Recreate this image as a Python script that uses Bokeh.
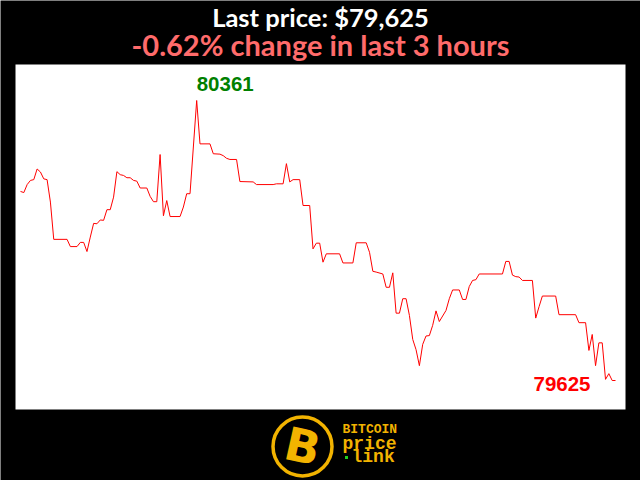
from bokeh.plotting import figure
from bokeh.models import Range1d
from bokeh.core.properties import value
from bokeh.embed import file_html
from bokeh.resources import INLINE

# ---- data (minute index within the last 3 hours, BTC price) ----
minutes = [0, 1, 2, 3, 4, 5, 6, 7, 8, 9, 10, 14, 15, 17, 18, 19, 20, 21, 22, 23,
           24, 25, 26, 27, 28, 29, 30, 31, 32, 33, 34, 35, 36, 38, 39, 40, 41, 42, 43, 44,
           45, 48, 49, 50, 51, 53, 54, 57, 58, 60, 61, 62, 63, 65, 66, 70, 71, 76, 77, 79,
           80, 81, 82, 84, 85, 87, 88, 89, 90, 91, 92, 96, 97, 100, 101, 104, 105, 106, 107, 109,
           110, 111, 112, 113, 114, 115, 116, 117, 118, 119, 120, 121, 122, 123, 124, 125, 126, 128, 129, 130,
           132, 133, 134, 135, 136, 137, 138, 145, 146, 147, 148, 149, 150, 151, 154, 155, 156, 157, 161, 162,
           167, 168, 170, 171, 172, 173, 174, 175, 176, 177, 178, 179]
prices = [80122, 80119, 80140, 80151, 80153, 80181, 80173, 80155, 80153, 80094,
          79996, 79996, 79977, 79977, 79988, 79988, 79964, 80002, 80038, 80037,
          80047, 80046, 80074, 80074, 80107, 80174, 80166, 80164, 80158, 80158,
          80151, 80149, 80131, 80131, 80109, 80095, 80095, 80219, 80058, 80098,
          80056, 80056, 80081, 80116, 80116, 80361, 80247, 80247, 80221, 80220,
          80216, 80209, 80206, 80206, 80148, 80147, 80140, 80140, 80142, 80142,
          80195, 80147, 80153, 80153, 80085, 80085, 79971, 79986, 79986, 79936,
          79958, 79958, 79934, 79934, 79987, 79987, 79962, 79912, 79910, 79905,
          79870, 79870, 79908, 79802, 79802, 79840, 79840, 79796, 79733, 79706,
          79664, 79720, 79742, 79743, 79770, 79808, 79780, 79809, 79840, 79863,
          79863, 79838, 79838, 79872, 79888, 79890, 79905, 79905, 79938, 79938,
          79902, 79898, 79897, 79888, 79888, 79789, 79819, 79847, 79847, 79798,
          79798, 79777, 79777, 79704, 79746, 79664, 79724, 79724, 79628, 79643,
          79625, 79625]
last_price = 79625
change_pct = -0.62
hours = 3
title_line1 = "Last price: ${:,}".format(last_price)
title_line2 = "{:.2f}% change in last {} hours".format(change_pct, hours)
logo_words = ["BITCOIN", "price", "link"]

# ---- layout (figure pixels) ----
W, H = 640, 480
X0_PX, X1_PX = 20, 615      # where first / last minute fall
YMAX_PX, YMIN_PX = 100, 380  # where max / min price fall (from top)

x_scale = (X1_PX - X0_PX) / (minutes[-1] - minutes[0])
x_start = minutes[0] - X0_PX / x_scale
x_end = x_start + W / x_scale
pmax, pmin = max(prices), min(prices)
y_scale = (YMIN_PX - YMAX_PX) / (pmax - pmin)
y_top = pmax + YMAX_PX / y_scale
y_bot = y_top - H / y_scale

p = figure(width=W, height=H, x_range=Range1d(x_start, x_end), y_range=Range1d(y_bot, y_top),
           x_axis_type=None, y_axis_type=None, min_border=0, toolbar_location=None,
           output_backend="svg", background_fill_color="black", border_fill_color="black",
           outline_line_color=None)
p.grid.visible = False
p.extra_x_ranges = {"px": Range1d(0, W)}
p.extra_y_ranges = {"px": Range1d(H, 0)}

# white chart panel
p.quad(left=[15], right=[625], top=[64], bottom=[409], x_range_name="px", y_range_name="px",
       fill_color="white", line_color=None)

# price line
p.line(minutes, prices, line_color="#ff0000", line_width=1)

imax = prices.index(pmax)
p.text(x=[minutes[imax]], y=[pmax], text=[str(pmax)], text_color="#008000",
       text_font=value("Liberation Sans"), text_font_style="bold", text_font_size="20.5px",
       text_align="left", text_baseline="alphabetic", y_offset=-17)
p.text(x=[minutes[-1]], y=[prices[-1]], text=[str(prices[-1])], text_color="#ff0000",
       text_font=value("Liberation Sans"), text_font_style="bold", text_font_size="20.5px",
       text_align="right", text_baseline="alphabetic", x_offset=-25, y_offset=3)

# titles
p.text(x=[320], y=[16.5], text=[title_line1], text_color="white", text_font=value("Lato"),
       text_font_style="bold", text_font_size="25.5px", text_align="center",
       text_baseline="alphabetic", x_range_name="px", y_range_name="px")
p.text(x=[320], y=[43.5], text=[title_line2], text_color="#ff6b6b", text_font=value("Lato"),
       text_font_style="bold", text_font_size="29px", text_align="center",
       text_baseline="alphabetic", x_range_name="px", y_range_name="px")

# logo
gold = "#f2b300"
p.scatter(x=[302], y=[446], size=59, marker="circle", fill_color="black", line_color=gold,
          line_width=3.5, x_range_name="px", y_range_name="px")
p.text(x=[302], y=[446], text=["B"], text_color=gold, text_font=value("DejaVu Sans"),
       text_font_style="bold", text_font_size="46px", text_align="center",
       text_baseline="middle", angle=-0.22, x_range_name="px", y_range_name="px")
p.text(x=[342], y=[429], text=[logo_words[0]], text_color=gold,
       text_font=value("Liberation Mono"), text_font_style="bold", text_font_size="13px",
       text_align="left", text_baseline="middle", x_range_name="px", y_range_name="px")
p.text(x=[342], y=[443], text=[logo_words[1]], text_color=gold,
       text_font=value("Liberation Mono"), text_font_style="bold", text_font_size="18px",
       text_align="left", text_baseline="middle", x_range_name="px", y_range_name="px")
p.text(x=[351], y=[456], text=[logo_words[2]], text_color=gold,
       text_font=value("Liberation Mono"), text_font_style="bold", text_font_size="18px",
       text_align="left", text_baseline="middle", x_range_name="px", y_range_name="px")
p.scatter(x=[346], y=[457], size=3, marker="square", fill_color="#1fd01f", line_color=None,
          x_range_name="px", y_range_name="px")

open("out.html", "w").write(file_html(p, INLINE))
